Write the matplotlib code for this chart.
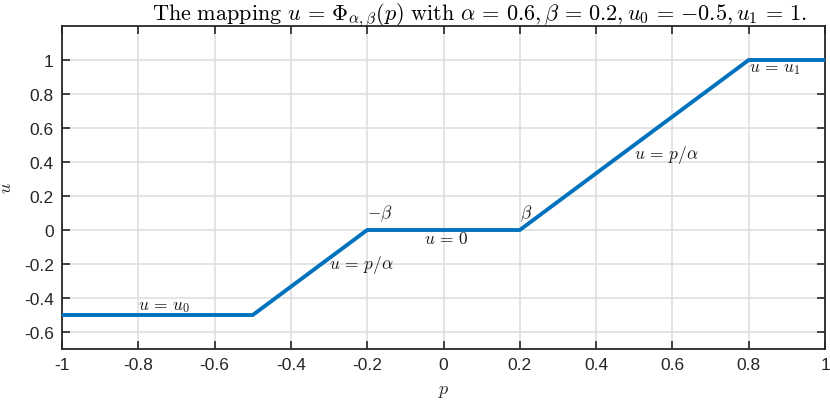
import matplotlib
matplotlib.use("Agg")
import matplotlib.pyplot as plt

plt.rcParams['mathtext.fontset'] = 'cm'
plt.rcParams['font.family'] = ['Liberation Sans', 'DejaVu Sans']

# data
p_pts = [-1.0, -0.5, -0.2, 0.2, 0.8, 1.0]
u_pts = [-0.5, -0.5, 0.0, 0.0, 1.0, 1.0]
xticks = [-1, -0.8, -0.6, -0.4, -0.2, 0, 0.2, 0.4, 0.6, 0.8, 1]
xticklabels = ['-1', '-0.8', '-0.6', '-0.4', '-0.2', '0', '0.2', '0.4', '0.6', '0.8', '1']
yticks = [-0.6, -0.4, -0.2, 0, 0.2, 0.4, 0.6, 0.8, 1]
yticklabels = ['-0.6', '-0.4', '-0.2', '0', '0.2', '0.4', '0.6', '0.8', '1']
labels = [
    (-0.8, -0.45, r'$u\,=\,u_0$'),
    (-0.3, -0.2, r'$u\,=\,p/\alpha$'),
    (-0.2, 0.1, r'$-\beta$'),
    (-0.05, -0.05, r'$u\,=\,0$'),
    (0.2, 0.1, r'$\beta$'),
    (0.5, 0.45, r'$u\,=\,p/\alpha$'),
    (0.8, 0.95, r'$u\,=\,u_1$'),
]
title = (r'$\mathrm{The\ mapping}\ u\,=\,\Phi_{\alpha,\beta}(p)\ \mathrm{with}\ '
         r'\alpha\,=\,0.6,\beta\,=\,0.2,u_0\,=\,{-}0.5,u_1\,=\,1.$')

fig = plt.figure(figsize=(8.3, 4.02), dpi=100)
ax = fig.add_axes([62/830, 52/402, 763/830, 323/402])
ax.plot(p_pts, u_pts, color='#0072BD', lw=2.8, solid_joinstyle='miter', zorder=3)
for x, y, s in labels:
    ax.text(x, y, s, ha='left', va='center', fontsize=12.5, color='#1a1a1a')

ax.set_xlim(-1, 1)
ax.set_ylim(-0.7, 1.2)
ax.set_xticks(xticks)
ax.set_xticklabels(xticklabels)
ax.set_yticks(yticks)
ax.set_yticklabels(yticklabels)
ax.grid(True, color='#dfdfdf', lw=1.2)
ax.set_axisbelow(True)
ax.tick_params(direction='in', length=6, width=1.2, colors='#262626', labelsize=12.5,
               top=True, right=True, pad=6)
for s in ax.spines.values():
    s.set_color('#262626')
    s.set_linewidth(1.3)
ax.set_xlabel(r'$p$', fontsize=13, color='#262626', labelpad=7)
ax.set_ylabel(r'$u$', fontsize=13, color='#262626', labelpad=6)
ax.set_title(title, fontsize=16, color='#000000', pad=5, x=0.547)
fig.savefig('out.png', dpi=100)
